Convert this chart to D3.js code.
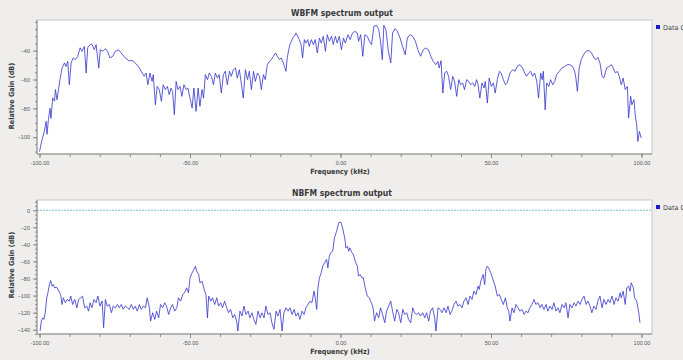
<!DOCTYPE html>
<html>
<head>
<meta charset="utf-8">
<script src="https://cdn.jsdelivr.net/npm/d3@7"></script>
<style>
  body { margin: 0; background: #efeeec; }
  svg { display: block; font-family: "DejaVu Sans", sans-serif; }
  .bold { font-family: "DejaVu Sans Condensed", "DejaVu Sans", sans-serif; font-weight: bold; }
</style>
</head>
<body>
<div id="chart"></div>
<script>
// WBFM trace (kHz, dB)
const wbfmFreq = [-100,-99.5,-99,-98.4,-97.8,-97.5,-97,-96.5,-96.2,-95.6,-95,-94.7,-94.2,-93.6,-93.2,-92.5,-91.7,-91.2,-90.6,-90.1,-89.5,-88.8,-88.1,-87.3,-86.5,-85.9,-85.1,-84.5,-84,-83.2,-82.6,-81.8,-81.2,-80.3,-79.8,-79,-78.1,-77.4,-76.6,-75.7,-74.8,-73.7,-72.6,-71.5,-70.4,-69,-67.9,-66.8,-65.9,-65.2,-64.6,-64,-63.3,-62.6,-62.2,-61.5,-60.9,-60.2,-59.5,-58.9,-58.2,-57.5,-56.9,-56.3,-55.8,-55.2,-54.6,-54,-53.3,-52.7,-52,-51.3,-50.7,-50,-49.3,-48.7,-48,-47.3,-46.7,-46,-45.5,-44.9,-44.2,-43.6,-42.9,-42.2,-41.6,-40.9,-40.3,-39.6,-38.9,-38.3,-37.6,-36.9,-36.3,-35.6,-34.9,-34.3,-33.6,-32.9,-32.3,-31.6,-30.9,-30.3,-29.6,-28.9,-28.3,-27.6,-26.9,-26.3,-25.6,-25,-24.3,-23.6,-23,-22.3,-21.6,-21,-20.3,-19.7,-19,-18.6,-18.1,-17.7,-17.2,-16.8,-16.3,-15.9,-15.3,-14.8,-14.2,-13.7,-13.1,-12.6,-12,-11.5,-10.9,-10.4,-9.7,-9,-8.4,-7.7,-7,-6.4,-5.7,-5,-4.4,-3.7,-3,-2.4,-1.7,-1.1,-0.4,0.3,1,1.6,2.5,3.2,4,4.8,5.6,6,6.7,7.4,8.1,8.9,9.6,10.3,11.1,12,12.7,13.3,13.9,14.4,15.1,15.9,16.7,17.3,18.1,18.9,19.8,20.6,21.5,22.2,23.1,24,24.9,25.7,26.6,27.5,28.4,29.2,30,30.8,31.7,32.4,32.8,33.4,34,34.6,35.3,35.9,36.6,37.3,37.9,38.6,39.3,39.9,40.6,41.2,41.9,42.6,43.2,43.9,44.6,45.2,45.7,46.3,47,47.7,48.1,48.8,49.4,50.1,50.8,51.4,52.1,52.8,53.4,54.1,54.8,55.4,56.3,57.2,58,58.7,59.6,60.5,61.2,61.8,62.5,63.2,63.8,64.5,65.2,65.8,66.5,67,67.4,68,68.5,69.2,69.8,70.5,71.2,71.8,72.7,73.6,74.5,75.4,76.2,77.1,77.8,78.2,78.7,79.3,80,80.9,81.8,82.7,83.4,84.2,84.9,85.5,86.2,86.9,87.5,88.4,89.3,90,90.6,91.3,92,92.6,93.3,93.9,94.6,95.3,95.7,96.4,96.8,97.5,97.9,98.4,98.8,99.3,99.9];
const wbfmGain = [-110,-105,-100.6,-96,-89,-98,-87,-80,-87,-72.8,-75,-67,-74,-66,-60,-52,-48.5,-51,-47.4,-63.6,-48.5,-45,-46.2,-44,-38,-40.4,-37,-55.5,-38,-35.8,-35.4,-39.3,-35.8,-52,-39.3,-40.4,-38.6,-40.4,-45,-44,-40.4,-39.5,-42.3,-45,-46.9,-46.9,-49.2,-52,-55.5,-57.8,-55.5,-63.6,-55.5,-61.3,-56.6,-77.5,-64.8,-67,-75.2,-63.6,-67,-64.8,-70.5,-66,-68.2,-84.4,-61.3,-67,-64.8,-71.7,-63.6,-67,-65.9,-72.9,-79.8,-65.9,-82.1,-65.9,-78.6,-67,-72.9,-56.6,-60.1,-55.5,-57.8,-63.6,-55.5,-59,-56.6,-69.4,-56.6,-54.3,-63.6,-54.3,-57.8,-53.2,-52,-59,-53.2,-63.6,-72.9,-53.2,-60.1,-54.3,-67,-54.3,-61.3,-55.5,-57.8,-67,-56.6,-60.1,-49.7,-47.4,-46.2,-43.9,-41.6,-43.9,-46.2,-45,-48.5,-50.9,-54.3,-45,-39.3,-35.8,-33.5,-31.2,-30,-27.7,-30,-32.3,-35.8,-45,-32.3,-34.7,-32.3,-37,-32.3,-35.8,-32.3,-41.6,-31.2,-34.7,-30,-40.4,-28.9,-33.5,-30,-35.8,-30,-34.7,-30,-39.3,-31.2,-34.7,-28.9,-32.3,-27.7,-26.6,-27.7,-33.5,-28.9,-43.9,-28.9,-30,-33.5,-35.8,-23.1,-22.4,-25.4,-33.5,-46.2,-22.4,-25.4,-40.4,-48.5,-27.7,-24.7,-26.6,-31.2,-37,-42.8,-31.2,-28.9,-30,-33.5,-39.3,-43.9,-39.3,-38.1,-39.3,-43.9,-47.4,-49.7,-47.4,-52,-46.9,-69.4,-55.5,-54.3,-57.8,-67,-57.8,-61.3,-71.7,-60.1,-63.6,-62.4,-67,-60.1,-61.3,-63.6,-62.4,-64.8,-60.1,-63.6,-72.9,-62.4,-65.9,-61.3,-76.3,-59,-64.8,-62.4,-69.4,-60.1,-54.3,-55.5,-60.1,-63.6,-62.4,-55.5,-53.2,-54.3,-50.9,-49.7,-52,-55.5,-57.8,-55.5,-54.3,-57.8,-55.5,-61.3,-72.9,-55.5,-60.1,-54.3,-81,-62.4,-64.8,-60.1,-63.6,-61.3,-56.6,-54.3,-52,-50.9,-49.7,-49.7,-50.9,-54.3,-59,-68.2,-52,-46.2,-42.3,-40,-40,-41.6,-45,-46.2,-44.6,-48.5,-57.8,-59,-52,-50.9,-49.7,-52,-55.5,-54.3,-57.8,-63.6,-59,-67,-64.8,-86.7,-71.7,-77.5,-74,-84.4,-91.4,-103,-96,-100.6,-106.4];

// NBFM trace (kHz, dB)
const nbfmFreq = [-99.8,-99.4,-98.9,-98.5,-98.1,-97.6,-97.2,-96.7,-96.3,-95.8,-95.4,-95,-94.3,-93.6,-93,-92.5,-92.1,-91.4,-90.8,-90.1,-89.6,-89,-88.3,-87.6,-87,-86.3,-85.7,-85,-84.3,-83.7,-83.2,-82.6,-81.9,-81.2,-80.6,-79.9,-79.2,-78.7,-78.1,-77.5,-76.8,-76.1,-75.5,-74.8,-74.1,-73.5,-72.8,-72.2,-71.5,-70.8,-70.2,-69.5,-68.8,-68.2,-67.5,-66.8,-66.2,-65.5,-64.8,-64.2,-63.5,-63.1,-62.4,-61.7,-61.1,-60.4,-59.8,-59.1,-58.4,-57.8,-57.1,-56.4,-55.8,-55.1,-54.4,-53.8,-53.1,-52.4,-51.8,-51.1,-50.5,-50,-49.3,-48.7,-48.2,-47.8,-47.1,-46.7,-46,-45.3,-44.7,-44.2,-43.8,-43.1,-42.5,-41.8,-41.1,-40.5,-39.8,-39.2,-38.5,-37.8,-37.2,-36.5,-35.8,-35.2,-34.5,-34.1,-33.4,-32.7,-32.1,-31.4,-30.7,-30.1,-29.4,-28.8,-28.1,-27.4,-26.7,-26.1,-25.4,-24.8,-24.1,-23.4,-22.8,-22.1,-21.4,-20.8,-20.1,-19.4,-18.8,-18.1,-17.4,-16.8,-16.1,-15.4,-14.8,-14.1,-13.5,-12.8,-12.1,-11.5,-10.8,-10.1,-9.5,-8.8,-8.4,-7.9,-7.5,-7,-6.4,-5.9,-5.3,-4.6,-4.2,-3.7,-3.3,-2.6,-2,-1.3,-0.6,0.1,0.7,1.4,1.8,2.3,2.7,3.1,3.8,4.3,4.9,5.6,6,6.5,7.1,7.6,8.2,8.9,9.6,10,10.5,10.9,11.3,12,12.7,13.3,14,14.7,15.3,16,16.7,17.3,18,18.7,19.3,20,20.7,21.3,22,22.6,23.3,24,24.6,25.3,26,26.6,27.3,28,28.6,29.3,29.9,30.6,31.3,31.7,32.4,33.1,33.7,34.4,35.1,35.7,36.4,37,37.7,38.4,39,39.7,40.4,41,41.7,42.4,43,43.7,44.3,45,45.7,46.1,46.6,47,47.4,47.9,48.3,48.8,49.2,49.9,50.5,51,51.4,52.1,52.8,53.4,54.1,54.8,55.4,55.9,56.3,57,57.6,58.3,59,59.6,60.3,61,61.6,62.3,62.9,63.6,64.3,64.9,65.6,66.3,66.9,67.6,68.3,68.9,69.6,70.3,70.9,71.6,72.3,72.9,73.6,74.3,74.9,75.6,76.2,76.9,77.6,78.2,78.9,79.6,80.2,80.9,81.6,82.2,82.9,83.5,84.2,84.9,85.5,86.2,86.9,87.5,88.2,88.9,89.5,90.2,90.9,91.5,92.2,92.9,93.3,93.9,94.6,95.1,95.7,96.2,96.6,97.3,97.7,98.4,99.1,99.5];
const nbfmGain = [-141.5,-129.9,-126,-127.9,-120.1,-102.6,-96.7,-87,-82.3,-88.9,-87,-90.9,-90.1,-94.8,-98.7,-110.4,-102.6,-108.4,-104.5,-106.5,-100.6,-110.4,-104.5,-114.3,-104.5,-102.6,-100.6,-114.3,-112.3,-118.2,-108.4,-114.3,-104.5,-108.4,-100.6,-112.3,-106.5,-137.6,-104.5,-112.3,-110.4,-120.1,-112.3,-114.3,-110.4,-114.3,-110.4,-116.2,-112.3,-114.3,-116.2,-110.4,-116.2,-112.3,-118.2,-110.4,-116.2,-112.3,-114.3,-102.6,-114.3,-129.9,-120.1,-127.9,-118.2,-126,-110.4,-114.3,-108.4,-112.3,-122.1,-114.3,-110.4,-118.2,-114.3,-102.6,-106.5,-98.7,-96.7,-90.9,-96.7,-79.2,-73.3,-69.4,-65.5,-71.4,-75.3,-85,-83.1,-92.8,-98.7,-126,-100.6,-106.5,-102.6,-110.4,-102.6,-112.3,-108.4,-114.3,-106.5,-114.3,-120.1,-116.2,-126,-122.1,-129.9,-141.5,-118.2,-124,-112.3,-122.1,-118.2,-126,-120.1,-127.9,-133.7,-118.2,-126,-120.1,-126,-112.3,-122.1,-120.1,-131.8,-139.6,-118.2,-124,-116.2,-141.5,-120.1,-114.3,-118.2,-114.3,-122.1,-116.2,-124,-120.1,-127.9,-118.2,-122.1,-114.3,-110.4,-106.5,-108.4,-94.8,-102.6,-116.2,-90.9,-79.2,-73.3,-65.5,-61.6,-57.7,-67.5,-53.8,-49.9,-48,-32.4,-24.6,-14.8,-13.7,-20.7,-32.4,-44.1,-42.1,-48,-44.1,-49.9,-51.9,-59.7,-65.5,-77.2,-75.3,-79.2,-79.2,-90.9,-100.6,-102.6,-106.5,-110.4,-116.2,-129.9,-120.1,-126,-114.3,-122.1,-131.8,-118.2,-112.3,-106.5,-118.2,-129.9,-116.2,-120.1,-131.8,-116.2,-122.1,-120.1,-127.9,-131.8,-114.3,-120.1,-122.1,-120.1,-124,-120.1,-126,-120.1,-129.9,-118.2,-114.3,-126,-141.5,-114.3,-116.2,-120.1,-114.3,-120.1,-112.3,-122.1,-118.2,-110.4,-106.5,-112.3,-110.4,-114.3,-106.5,-102.6,-110.4,-100.6,-104.5,-94.8,-98.7,-88.9,-92.8,-83.1,-79.2,-75.3,-87,-69.4,-65.5,-67.5,-73.3,-79.2,-85,-88.9,-100.6,-98.7,-104.5,-110.4,-102.6,-114.3,-118.2,-129.9,-114.3,-120.1,-110.4,-114.3,-118.2,-116.2,-122.1,-118.2,-120.1,-114.3,-110.4,-104.5,-110.4,-108.4,-114.3,-110.4,-116.2,-110.4,-118.2,-112.3,-116.2,-108.4,-118.2,-114.3,-120.1,-110.4,-114.3,-108.4,-126,-110.4,-114.3,-108.4,-112.3,-106.5,-110.4,-104.5,-100.6,-110.4,-106.5,-112.3,-120.1,-112.3,-116.2,-106.5,-100.6,-114.3,-104.5,-110.4,-104.5,-108.4,-100.6,-110.4,-102.6,-106.5,-96.7,-102.6,-94.8,-110.4,-90.9,-88.9,-94.8,-85,-90.9,-102.6,-106.5,-120.1,-131.8,-141.5];

const xTickLabels = [-100, -50, 0, 50, 100];
const wbfmYTicks = [-40, -60, -80, -100];
const nbfmYTicks = [0, -20, -40, -60, -80, -100, -120, -140];
const nbfmRef = 0; // dashed reference level

const W = 683, H = 360;
const svg = d3.select("#chart").append("svg")
  .attr("width", W).attr("height", H);

svg.append("rect").attr("width", W).attr("height", H).attr("fill", "#efeeec");

function panel(opt) {
  const left = 37, right = 652;
  const top = opt.top, bottom = opt.top + 134;
  const g = svg.append("g");

  const x = d3.scaleLinear().domain([-100, 100]).range([39.5, 641.5]);
  const y = d3.scaleLinear().domain(opt.yDomain).range([bottom, top]);

  g.append("rect")
    .attr("x", left).attr("y", top)
    .attr("width", right - left).attr("height", bottom - top)
    .attr("fill", "#fff").attr("stroke", "#c9c7c4").attr("stroke-width", 1);

  // title
  g.append("text")
    .attr("class", "bold")
    .attr("x", 342).attr("y", top - 4)
    .attr("text-anchor", "middle")
    .attr("font-size", 8.5).attr("fill", "#3a3a3a")
    .text(opt.title);

  // x axis, minor ticks every 10 kHz
  g.append("g")
    .attr("transform", `translate(0,${bottom})`)
    .call(d3.axisBottom(x).tickValues(d3.range(-100, 101, 10)).tickSize(3).tickFormat(""))
    .call(a => a.select(".domain").attr("d", `M${left},0H${right}`).attr("stroke", "#8a8a8a"))
    .call(a => a.selectAll("line").attr("stroke", "#8a8a8a"));
  g.append("g")
    .attr("transform", `translate(0,${bottom})`)
    .call(d3.axisBottom(x).tickValues(xTickLabels).tickSize(4).tickPadding(3)
      .tickFormat(d => d.toFixed(2)))
    .call(a => a.select(".domain").remove())
    .call(a => a.selectAll("line").attr("stroke", "#8a8a8a"))
    .call(a => a.selectAll("text").attr("font-size", 5.5).attr("fill", "#555"));

  // y axis, minor ticks every 5 dB
  const minor = d3.range(Math.ceil(opt.yDomain[0] / 5) * 5, opt.yDomain[1], 5);
  g.append("g")
    .attr("transform", `translate(${left},0)`)
    .call(d3.axisLeft(y).tickValues(minor).tickSize(2).tickFormat(""))
    .call(a => a.select(".domain").attr("d", `M0,${top}V${bottom}`).attr("stroke", "#8a8a8a"))
    .call(a => a.selectAll("line").attr("stroke", "#8a8a8a"));
  g.append("g")
    .attr("transform", `translate(${left},0)`)
    .call(d3.axisLeft(y).tickValues(opt.yTicks).tickSize(4).tickPadding(3))
    .call(a => a.select(".domain").remove())
    .call(a => a.selectAll("line").attr("stroke", "#8a8a8a"))
    .call(a => a.selectAll("text").attr("font-size", 5.5).attr("fill", "#555"));

  // axis titles
  g.append("text")
    .attr("class", "bold")
    .attr("x", 340).attr("y", bottom + 20)
    .attr("text-anchor", "middle")
    .attr("font-size", 7.2).attr("fill", "#3a3a3a")
    .text("Frequency (kHz)");
  g.append("text")
    .attr("class", "bold")
    .attr("transform", `translate(14,${opt.yTitle}) rotate(-90)`)
    .attr("text-anchor", "middle")
    .attr("font-size", 7.2).attr("fill", "#3a3a3a")
    .text("Relative Gain (dB)");

  if (opt.ref !== undefined) {
    g.append("line")
      .attr("x1", left).attr("x2", right)
      .attr("y1", y(opt.ref)).attr("y2", y(opt.ref))
      .attr("stroke", "#55b8c6").attr("stroke-width", 0.8)
      .attr("stroke-dasharray", "2,1");
  }

  const line = d3.line().x((d, i) => x(opt.freq[i])).y(d => y(d));
  g.append("path")
    .datum(opt.gain)
    .attr("d", line)
    .attr("fill", "none")
    .attr("stroke", "#3434cc")
    .attr("stroke-width", 0.8);

  // legend
  g.append("rect")
    .attr("x", 656).attr("y", top + 5).attr("width", 4).attr("height", 4)
    .attr("fill", "#1a1acc");
  g.append("text")
    .attr("x", 663).attr("y", top + 9.5)
    .attr("font-size", 6.5).attr("fill", "#444")
    .text("Data 0");
}

panel({ title: "WBFM spectrum output", top: 20, yDomain: [-111.7, -18.7],
  yTicks: wbfmYTicks, freq: wbfmFreq, gain: wbfmGain, yTitle: 96 });
panel({ title: "NBFM spectrum output", top: 200, yDomain: [-145, 12],
  yTicks: nbfmYTicks, freq: nbfmFreq, gain: nbfmGain, yTitle: 265, ref: nbfmRef });
</script>
</body>
</html>
